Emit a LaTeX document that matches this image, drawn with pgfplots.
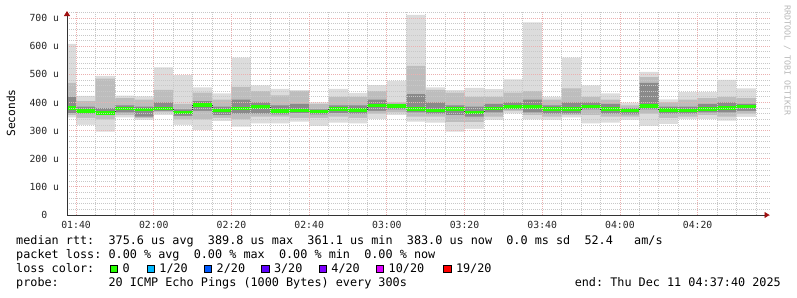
\documentclass[border=0pt]{standalone}
\usepackage{pgfplots}
\pgfplotsset{compat=1.18}
\usepackage{pgfplotstable}
\usepackage{fontspec}
\setmainfont{DejaVu Sans Mono}
\usetikzlibrary{arrows.meta}
\definecolor{smokeA}{HTML}{DCDCDC}
\definecolor{smokeB}{HTML}{BDBDBD}
\definecolor{smokeC}{HTML}{8A8A8A}
\definecolor{medgreen}{HTML}{26FF00}
\definecolor{lc1}{HTML}{00B8FF}
\definecolor{lc2}{HTML}{0059FF}
\definecolor{lc3}{HTML}{5E00FF}
\definecolor{lc4}{HTML}{7E00FF}
\definecolor{lc10}{HTML}{DD00FF}
\definecolor{lc19}{HTML}{FF0000}
\definecolor{mgrid}{HTML}{EBB0B0}
\definecolor{ngrid}{HTML}{C8C8C8}
\definecolor{arrowred}{HTML}{A01010}

\pgfplotstableread{
x   mn  lo2 lo3 med hi3 hi2 mx
-5  347 355 362 380 420 470 608
0   320 345 360 370 385 405 423
5   296 340 355 363 380 485 494
10  347 355 365 379 390 415 424
15  338 345 350 375 385 410 422
20  355 365 370 379 400 445 525
25  320 340 352 365 375 395 497
30  302 340 370 391 405 435 454
35  334 345 355 371 385 410 432
40  314 340 360 379 410 455 559
45  326 350 360 383 400 440 461
50  326 350 358 370 390 425 448
55  332 345 362 371 395 440 444
60  317 345 358 368 375 395 400
65  328 350 362 377 390 420 448
70  326 345 360 373 390 420 434
75  341 360 370 390 410 440 462
80  355 365 375 387 395 400 477
85  332 350 365 376 430 530 711
90  328 350 360 371 400 445 454
95  296 330 355 376 390 435 444
100 306 330 350 364 385 420 452
105 338 350 365 378 395 420 447
110 361 370 375 383 400 435 482
115 340 355 365 383 410 440 685
120 338 350 360 377 390 410 420
125 347 355 360 377 400 450 559
130 326 355 375 386 400 420 461
135 328 350 360 377 395 410 432
140 338 350 358 371 380 390 399
145 317 360 375 387 470 490 509
150 323 345 360 373 385 400 411
155 341 350 360 371 385 410 437
160 341 355 365 376 395 415 437
165 335 350 365 380 400 420 480
170 349 360 370 385 395 415 450
175 349 360 370 385 395 415 450
}\smoke

\begin{document}
\begin{tikzpicture}[x=1pt,y=1pt]
\useasboundingbox (0,0) rectangle (797,297);
\begin{axis}[
  at={(67pt,82pt)}, anchor=south west,
  scale only axis, width=702.5pt, height=204pt,
  xmin=-2.333, xmax=178.5, ymin=0, ymax=725,
  enlargelimits=false,
  axis on top,
  axis x line=bottom, axis y line=left,
  axis line style={draw=black!80, line width=0.8pt, -{Triangle[length=5pt,width=6pt,color=arrowred]}},
  xtick={0,20,...,160},
  xticklabels={01:40,02:00,02:20,02:40,03:00,03:20,03:40,04:00,04:20},
  minor xtick={5,10,...,175},
  ytick={0,100,...,700},
  yticklabels={0\phantom{\ u},100\ u,200\ u,300\ u,400\ u,500\ u,600\ u,700\ u},
  minor ytick={20,40,...,720},
  grid=both,
  major grid style={mgrid, line width=0.8pt, dash pattern=on 1pt off 1pt},
  minor grid style={ngrid, line width=0.8pt, dash pattern=on 1pt off 1pt},
  major tick length=0pt, minor tick length=0pt,
  ticklabel style={font=\fontsize{9.8}{11}\selectfont, text=black!85},
  xticklabel style={anchor=base, yshift=-14pt, inner sep=0pt},
  yticklabel style={anchor=east, xshift=-7.7pt, inner sep=0pt},
]
\addplot[draw=none, fill=smokeA, const plot] table[x=x,y=mx]{\smoke} \closedcycle;
\addplot[draw=none, fill=smokeB, const plot] table[x=x,y=hi2]{\smoke} \closedcycle;
\addplot[draw=none, fill=smokeC, const plot] table[x=x,y=hi3]{\smoke} \closedcycle;
\addplot[draw=none, fill=smokeB, const plot] table[x=x,y=lo3]{\smoke} \closedcycle;
\addplot[draw=none, fill=smokeA, const plot] table[x=x,y=lo2]{\smoke} \closedcycle;
\addplot[draw=none, fill=white, const plot] table[x=x,y=mn]{\smoke} \closedcycle;
\addplot[black!80, line width=0.8pt, const plot] table[x=x,y=med]{\smoke};
\addplot[medgreen, line width=3.5pt, jump mark left] table[x=x,y=med]{\smoke};
\end{axis}

\node[rotate=90, anchor=center, inner sep=0, font=\fontsize{11.2}{13}\selectfont] at (11,184) {Seconds};
\node[rotate=-90, anchor=base west, inner sep=0, text=black!28, font=\fontsize{8.3}{10}\selectfont] at (784.5,292) {RRDTOOL / TOBI OETIKER};

\begin{scope}[every node/.style={inner sep=0, font=\fontsize{11.8}{14}\selectfont}]
\node[anchor=base west] at (16,52.5) {median\ rtt:\ \ 375.6\ us\ avg\ \ 389.8\ us\ max\ \ 361.1\ us\ min\ \ 383.0\ us\ now\ \ 0.0\ ms\ sd\ \ 52.4\ \ \ am/s};
\node[anchor=base west] at (16,38.5) {packet\ loss:\ 0.00\ \%\ avg\ \ 0.00\ \%\ max\ \ 0.00\ \%\ min\ \ 0.00\ \%\ now};
\node[anchor=base west] at (16,24.5) {loss\ color:};
\node[anchor=base west] at (16,10.5) {probe:\ \ \ \ \ \ \ 20\ ICMP\ Echo\ Pings\ (1000\ Bytes)\ every\ 300s};
\node[anchor=base east] at (781,10.5) {end:\ Thu\ Dec\ 11\ 04:37:40\ 2025};
\foreach \sx/\col/\lab in {110/medgreen/{0}, 146.7/lc1/{1/20}, 204/lc2/{2/20}, 261.3/lc3/{3/20}, 318.7/lc4/{4/20}, 376/lc10/{10/20}, 443.3/lc19/{19/20}}{
  \node[draw=black, fill=\col, line width=0.6pt, minimum size=7.2pt, anchor=south west] at (\sx,24.6) {};
  \node[anchor=base west] at (\sx+12.5,24.5) {\lab};
}
\end{scope}
\end{tikzpicture}
\end{document}
